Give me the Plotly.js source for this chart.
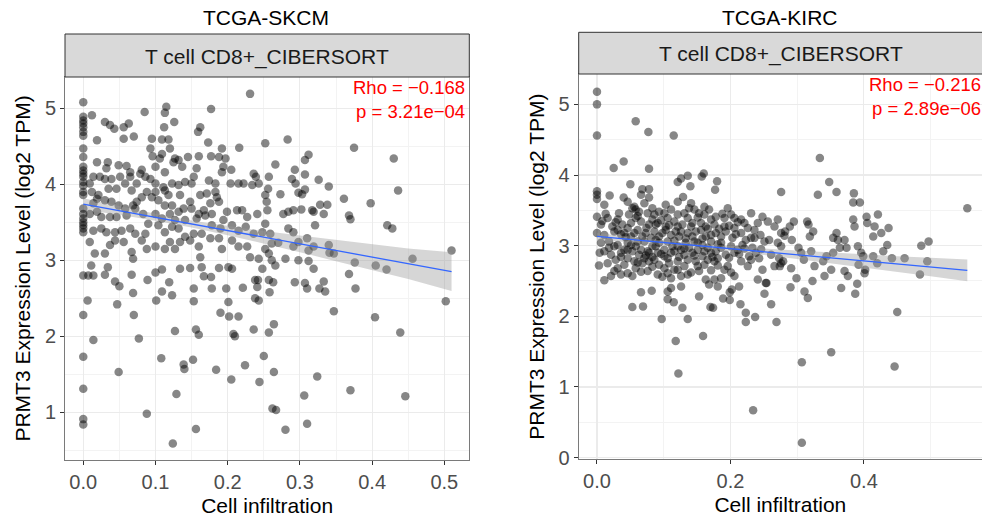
<!DOCTYPE html>
<html>
<head>
<meta charset="utf-8">
<script src="https://cdn.plot.ly/plotly-3.0.1.min.js"></script>
<style>html,body{margin:0;padding:0;background:#fff;}#chart{width:982px;height:517px;}</style>
</head>
<body>
<div id="chart"></div>
<script>
// ---------------- Labels ----------------
const skcmTitle = "TCGA-SKCM";
const kircTitle = "TCGA-KIRC";
const stripLabel = "T cell CD8+_CIBERSORT";
const skcmStats = ["Rho = \u22120.168", "p = 3.21e\u221204"];
const kircStats = ["Rho = \u22120.216", "p = 2.89e\u221206"];
const xTitle = "Cell infiltration";
const yTitle = "PRMT3 Expression Level (log2 TPM)";

// ---------------- Data: TCGA-SKCM ----------------
const skcmX = [
 0,0,0,0,0,0,0,0,0,0, 0,0,0,0,0,0,0,0,0,0, 0,0,0,0,0,0,0,0,0,0,
 0.012,0.030,0.037,0.043,0.056,0.063,0.056,0.070,0.085,0.113,
 0.115,0.112,0.126,0.095,0.109,0.118,0.120,0.093,0.096,0.106,
 0.127,0.132,0.109,0.019,0.019,0.034,0.032,0.049,0.060,0.065,
 0.081,0.100,0.113,0.125,0.137,0.145,0.160,0.157,0.162,0.159,
 0.177,0.173,0.192,0.197,0.177,0.188,0.194,0.205,0.192,0.216,
 0.231,0.252,0.236,0.239,0.234,0.243,0.257,0.215,0.222,0.204,
 0.174,0.183,0.171,0.150,0.153,0.141,0.132,0.123,0.111,0.100,
 0.093,0.086,0.079,0.065,0.051,0.039,0.030,0.023,0.014,0.009,
 0.012,0.021,0.035,0.046,0.058,0.067,0.074,0.088,0.100,0.113,
 0.118,0.134,0.148,0.162,0.183,0.185,0.188,0.176,0.167,0.160,
 0.150,0.139,0.132,0.123,0.113,0.104,0.095,0.081,0.074,0.069,
 0.058,0.049,0.039,0.030,0.019,0.014,0.009,0.019,0.025,0.037,
 0.046,0.060,0.072,0.083,0.100,0.109,0.120,0.127,0.141,0.157,
 0.169,0.178,0.199,0.213,0.220,0.227,0.241,0.255,0.252,0.248,
 0.236,0.225,0.215,0.206,0.194,0.190,0.178,0.164,0.153,0.141,
 0.132,0.123,0.113,0.104,0.090,0.086,0.072,0.065,0.053,0.044,
 0.032,0.025,0.014,0.009,0.016,0.030,0.037,0.044,0.056,0.067,
 0.069,0.081,0.088,0.100,0.113,0.120,0.127,0.134,0.148,0.160,
 0.162,0.176,0.188,0.192,0.206,0.215,0.227,0.231,0.243,0.252,0.257,
 0.283,0.375,0.430,0.312,0.307,0.266,0.293,0.307,0.289,0.294,
 0.256,0.326,0.340,0.307,0.298,0.303,0.273,0.252,0.254,0.328,
 0.338,0.361,0.398,0.436,0.277,0.284,0.291,0.302,0.317,0.319,
 0.333,0.321,0.284,0.291,0.368,0.370,0.421,0.428,0.259,0.261,
 0.270,0.291,0.298,0.310,0.319,0.312,0.340,0.347,0.280,0.298,
 0.312,0.261,0.376,0.405,0.420,0.456,0.510,0.319,0.341,
 0.007,0.014,0.030,0.011,0.034,0.044,0.050,0.067,0.069,0.089,
 0.100,0.109,0.119,0.109,0.123,0.101,0.134,0.148,0.164,0.153,
 0.153,0.167,0.177,0.178,0.188,0.201,0.206,0.198,0.201,0.221,
 0.238,0.242,0.241,0.238,0.243,0.248,0.257,0.258,0.006,0.047,
 0.070,0.190,0.202,0.215,0.127,0.156,0.160,0.208,0.210,0.236,
 0.257,0.014,0.077,0.108,0.139,0.140,0.152,0.184,0.224,0.250,
 0.049,0.205,0.244,0.129,0.088,0.156,0.124,
 0.266,0.263,0.293,0.307,0.310,0.333,0.327,0.335,0.368,0.377,
 0.502,0.347,0.404,0.264,0.439,0.264,0.324,0.370,0.306,0.446,
 0.262,0.267,0.310,0.280
];
const skcmY = [
 5.08,4.89,4.84,4.80,4.75,4.69,4.64,4.47,4.36,4.23,
 4.18,4.14,4.10,4.03,3.98,3.90,3.86,3.68,3.61,3.55,
 3.50,3.46,3.42,3.37,2.80,2.28,1.73,1.31,0.91,0.84,
 4.91,4.82,4.78,4.73,4.75,4.80,4.60,4.63,4.95,4.94,
 5.02,4.75,4.82,4.60,4.59,4.59,4.47,4.47,4.37,4.34,
 4.34,4.32,4.40,4.58,4.29,4.29,4.21,4.25,4.24,4.16,
 4.19,4.23,4.16,4.29,4.23,4.36,4.37,4.21,4.75,4.69,
 4.99,4.55,4.47,4.34,4.37,4.36,4.23,4.19,4.16,4.48,
 5.19,4.54,4.14,4.10,3.99,4.01,4.10,4.01,4.01,4.01,
 4.05,4.01,3.88,4.01,4.10,4.03,3.99,4.01,3.96,4.01,
 4.07,4.10,4.14,4.10,4.10,4.07,4.07,4.10,4.10,4.01,
 3.90,3.86,3.94,3.94,4.01,3.92,4.01,3.90,3.90,3.92,
 3.86,3.86,3.77,3.86,3.90,3.83,3.77,3.75,3.66,3.61,
 3.68,3.68,3.64,3.72,3.72,3.79,3.83,3.83,3.77,3.72,
 3.68,3.72,3.77,3.79,3.81,3.75,3.61,3.64,3.57,3.57,
 3.57,3.59,3.68,3.61,3.61,3.55,3.61,3.53,3.53,3.55,
 3.59,3.61,3.64,3.66,3.66,3.57,3.61,3.66,3.48,3.37,
 3.35,3.44,3.39,3.46,3.53,3.42,3.46,3.35,3.35,3.31,
 3.42,3.44,3.37,3.46,3.48,3.35,3.35,3.42,3.39,3.37,
 3.37,3.42,3.39,3.24,3.09,3.09,3.20,3.26,3.24,3.11,
 3.02,3.26,3.15,3.18,3.15,3.24,3.15,3.24,3.26,3.18,
 3.04,3.29,3.29,3.15,3.26,3.18,3.18,3.04,3.02,3.15,3.09,
 4.59,4.48,4.34,4.39,4.32,4.26,4.19,4.13,4.07,4.01,
 3.94,4.06,3.97,3.93,3.89,3.87,3.87,3.86,3.77,3.73,
 3.73,3.81,3.75,3.92,3.61,3.64,3.66,3.67,3.66,3.64,
 3.61,3.46,3.42,3.37,3.59,3.54,3.46,3.42,3.35,3.22,
 3.23,3.18,3.24,3.29,3.18,3.13,3.20,3.09,3.02,3.00,
 2.99,3.00,2.97,2.93,2.88,3.02,3.13,2.89,3.10,
 2.80,2.80,2.81,2.93,2.91,2.72,2.66,2.81,2.57,2.74,
 2.84,2.88,2.71,2.59,2.54,2.47,2.89,2.90,2.91,2.63,
 2.46,2.79,2.78,2.63,2.90,2.91,2.89,2.63,2.45,2.64,
 2.74,2.74,2.65,2.50,2.47,2.89,2.74,2.58,2.47,2.42,
 2.28,2.31,2.26,2.26,2.07,2.09,2.02,2.03,2.00,2.09,
 2.05,1.95,1.97,1.71,1.63,1.57,1.69,1.56,1.62,1.74,
 1.53,1.43,1.40,1.24,0.98,0.78,0.59,
 2.93,2.71,2.71,2.70,2.63,2.72,2.63,2.59,2.82,2.63,
 2.46,2.33,2.25,2.16,2.05,1.53,1.47,1.29,1.22,1.21,
 1.05,1.03,0.85,0.77
];
// fitted line and its 95% band
const skcmFitX = [0, 0.05, 0.1, 0.15, 0.2, 0.25, 0.3, 0.35, 0.4, 0.45, 0.51];
const skcmFitY = [3.740, 3.653, 3.566, 3.478, 3.391, 3.304, 3.217, 3.129, 3.042, 2.955, 2.850];
const skcmUpper = [3.815, 3.708, 3.611, 3.523, 3.451, 3.384, 3.327, 3.269, 3.212, 3.155, 3.105];
const skcmLower = [3.665, 3.598, 3.521, 3.433, 3.331, 3.224, 3.107, 2.989, 2.872, 2.755, 2.595];

// ---------------- Data: TCGA-KIRC ----------------
const kircX = [
 0,0,0,0.058,0.077,0.115,0.025,0.040,0.078,0.050,
 0.066,0.068,0.078,0,0,0,0.019,0.040,0.078,0.121,
 0.126,0.136,0.140,0.129,0.160,0.157,0.180,0.177,0.276,
 0.334,0.348,0.331,0.359,0.385,
 0.011,0.046,0.056,0.071,0.103,0.121,0.141,0.161,0.196,
 0.000,0.016,0.033,0.048,0.058,0.076,0.086,0.093,0.111,0.121,
 0.131,0.146,0.161,0.178,0.191,0.201,0.216,0.248,0.256,0.271,
 0.006,0.023,0.038,0.051,0.066,0.078,0.091,0.103,0.116,0.128,
 0.143,0.156,0.163,0.176,0.191,0.206,0.221,0.236,0.241,0.266,
 0.000,0.011,0.026,0.041,0.051,0.061,0.073,0.086,0.098,0.111,
 0.123,0.136,0.148,0.163,0.178,0.193,0.203,0.216,0.231,0.245,
 0.258,0.276,
 0.006,0.018,0.031,0.046,0.058,0.071,0.083,0.093,0.106,0.121,
 0.133,0.146,0.158,0.171,0.186,0.201,0.218,0.233,0.251,0.271,
 0.011,0.021,0.036,0.046,0.063,0.076,0.091,0.101,0.116,0.131,
 0.143,0.158,0.171,0.181,0.193,0.206,0.228,0.243,0.261,0.273,
 0.016,0.028,0.041,0.056,0.068,0.078,0.093,0.108,0.121,0.131,
 0.148,0.161,0.176,0.196,0.226,0.248,0.266,
 0.021,0.036,0.046,0.011,0.076,0.091,0.106,0.111,0.126,0.136,
 0.153,0.163,0.176,0.186,0.206,0.241,0.253,
 0.053,0.063,0.083,0.101,0.138,0.153,0.168,0.031,0.058,0.083,
 0.106,0.136,0.171,0.031,0.046,0.056,0.068,0.081,0.093,0.103,
 0.118,0.143,0.156,0.171,0.186,0.026,0.041,0.051,0.066,0.078,
 0.088,0.101,0.113,0.126,0.138,0.151,0.166,0.178,0.046,0.071,
 0.086,0.106,0.136,0.151,0.166,0.031,0.058,0.101,0.121,0.191,
 0.216,0.211,0.236,0.226,0.206,0.231,
 0.281,0.282,0.289,0.295,0.276,0.276,0.274,0.279,0.291,0.292,
 0.299,0.302,0.306,0.310,0.315,0.317,0.319,0.321,0.324,0.326,
 0.339,0.341,0.344,0.351,0.354,0.354,0.359,0.361,0.364,0.371,
 0.371,0.374,0.376,0.384,0.386,0.391,0.392,0.396,0.399,0.402,
 0.404,0.405,0.414,0.416,0.420,0.421,0.414,0.426,0.429,0.435,
 0.437,0.442,0.461,0.486,0.495,0.497,0.555,0.384,0.394,0.484,
 0.401,0.323,
 0.118,0.122,0.159,0.307,0.351,0.446,0.450,0.234,0.307,0.097,
 0.053,0.069,0.136,0.066,0.082,0.128,0.115,0.106,0.153,0.170,
 0.189,0.199,0.215,0.223,0.223,0.237,0.269,0.261,0.251,0.290,
 0.311,0.316,0.366,0.387,0.390,0.213,0.202,0.199,0.181,0.168,
 0.126,0.111,0.106,0.254,0.174
];
const kircY = [
 5.18,5.00,4.56,4.76,4.61,4.56,4.10,4.19,4.09,3.87,
 3.72,3.80,3.80,3.77,3.72,3.66,3.71,3.68,3.68,3.90,
 3.95,3.99,3.84,3.69,4.02,3.98,3.91,3.79,3.76,
 4.24,3.90,3.72,3.76,3.74,
 3.58,3.62,3.55,3.60,3.58,3.62,3.60,3.55,3.53,
 3.41,3.39,3.46,3.44,3.51,3.46,3.44,3.48,3.51,3.44,
 3.46,3.51,3.44,3.41,3.39,3.44,3.37,3.41,3.34,3.37,
 3.30,3.27,3.30,3.32,3.34,3.30,3.32,3.27,3.34,3.30,
 3.32,3.32,3.27,3.30,3.27,3.25,3.32,3.22,3.32,3.27,
 3.18,3.15,3.20,3.18,3.13,3.22,3.18,3.20,3.18,3.15,
 3.13,3.18,3.20,3.13,3.18,3.20,3.11,3.18,3.11,3.15,
 3.08,3.18,
 3.04,3.06,3.01,3.04,2.99,3.06,2.99,3.04,3.06,2.99,
 3.04,3.06,3.01,3.06,3.04,2.99,3.01,2.97,3.06,3.04,
 2.92,2.87,2.90,2.94,2.87,2.92,2.90,2.85,2.92,2.87,
 2.90,2.85,2.90,2.82,2.87,2.90,2.85,2.82,2.87,2.82,
 2.75,2.80,2.73,2.78,2.75,2.78,2.73,2.75,2.78,2.71,
 2.78,2.73,2.78,2.71,2.71,2.66,2.71,
 2.57,2.59,2.61,2.51,2.64,2.59,2.61,2.54,2.57,2.59,
 2.64,2.52,2.52,2.54,2.57,2.52,2.47,
 3.53,3.48,3.53,3.46,3.53,3.46,3.51,3.37,3.39,3.37,
 3.39,3.39,3.37,3.22,3.25,3.18,3.13,3.11,3.13,3.22,
 3.20,3.13,3.22,3.15,3.13,2.99,2.94,3.01,2.94,2.90,
 2.99,2.94,2.99,2.94,2.97,2.94,2.97,2.92,2.82,2.82,
 2.80,2.82,2.80,2.71,2.80,2.68,2.68,2.68,2.66,2.66,
 2.78,2.94,3.11,3.25,3.39,3.46,
 3.14,3.20,3.27,3.34,2.99,2.75,2.71,2.78,2.68,3.08,
 2.54,2.97,2.90,2.80,3.34,3.30,3.13,2.92,3.20,2.71,
 2.78,2.57,2.85,2.66,2.90,3.11,3.18,3.08,2.97,3.08,
 2.64,2.97,2.57,3.37,3.27,2.99,2.73,2.90,2.85,2.66,
 3.41,3.32,3.13,3.27,2.75,3.44,2.85,3.18,2.92,3.01,
 3.25,2.82,2.82,3.00,2.78,3.06,3.53,3.61,3.61,2.59,
 2.61,2.50,
 1.65,1.19,1.72,1.35,1.49,1.29,2.06,0.67,0.21,1.96,
 2.13,2.14,1.96,2.34,2.36,2.12,2.20,2.24,2.28,2.13,
 2.25,2.23,2.17,2.05,1.92,1.99,1.92,2.17,2.32,2.41,
 2.35,2.26,2.40,2.32,2.46,2.42,2.38,2.34,2.42,2.45,
 2.42,2.40,2.35,2.47,2.12
];
// further overlapping points in the dense KIRC cloud
const kircDenseX = [
 0.013,0.028,0.043,0.061,0.074,0.088,0.096,0.108,0.116,0.126,
 0.133,0.141,0.151,0.158,0.166,0.183,0.188,0.198,0.208,0.223,
 0.018,0.036,0.053,0.061,0.073,0.083,0.096,0.111,0.123,0.131,
 0.146,0.161,0.173,0.186,0.198,0.213,0.221,0.238,0.026,0.053,
 0.066,0.083,0.098,0.116,0.141,0.171,0.181,0.201,0.121,0.061,
 0.036,0.088,0.151,0.181,0.008,0.004,0.003,0.211,0.231,0.246
];
const kircDenseY = [
 3.45,3.33,3.12,3.42,3.25,3.30,3.36,3.29,3.07,3.20,
 3.10,3.27,3.40,3.10,3.24,3.24,3.45,3.28,3.16,3.08,
 2.97,2.84,2.92,2.76,2.86,2.84,2.88,2.90,2.84,2.96,
 2.86,2.92,2.84,2.97,2.83,2.88,2.96,2.90,2.64,2.57,
 2.63,2.70,2.56,2.66,2.62,2.65,2.72,2.62,3.27,3.06,
 3.16,3.08,3.04,3.02,3.35,2.90,2.72,3.33,2.80,2.95
];
const kircFitX = [0, 0.05, 0.1, 0.15, 0.2, 0.25, 0.3, 0.35, 0.4, 0.45, 0.5, 0.555];
const kircFitY = [3.130, 3.087, 3.044, 3.000, 2.957, 2.914, 2.871, 2.827, 2.784, 2.741, 2.698, 2.650];
const kircUpper = [3.180, 3.122, 3.074, 3.030, 2.992, 2.959, 2.931, 2.902, 2.874, 2.851, 2.828, 2.805];
const kircLower = [3.080, 3.052, 3.014, 2.970, 2.922, 2.869, 2.811, 2.752, 2.694, 2.631, 2.568, 2.495];

// ---------------- Styles ----------------
const FONT = "Liberation Sans, Arial, Helvetica, sans-serif";
const ptColor = "rgba(0,0,0,0.47)";
const bandColor = "rgba(153,153,153,0.4)";
const lineColor = "#3366FF";

function panelTraces(xs, ys, fx, fy, lo, up, xa, ya) {
  return [
    {type:"scatter", mode:"markers", x:xs, y:ys, xaxis:xa, yaxis:ya,
     marker:{size:8.5, color:ptColor, line:{width:0}}, hoverinfo:"skip"},
    {type:"scatter", mode:"lines", x:fx, y:lo, xaxis:xa, yaxis:ya,
     line:{width:0, color:bandColor}, hoverinfo:"skip"},
    {type:"scatter", mode:"lines", x:fx, y:up, xaxis:xa, yaxis:ya, fill:"tonexty",
     fillcolor:bandColor, line:{width:0, color:bandColor}, hoverinfo:"skip"},
    {type:"scatter", mode:"lines", x:fx, y:fy, xaxis:xa, yaxis:ya,
     line:{width:1.3, color:lineColor}, hoverinfo:"skip"}
  ];
}

const data = [
  ...panelTraces(skcmX, skcmY, skcmFitX, skcmFitY, skcmLower, skcmUpper, "x", "y"),
  ...panelTraces(kircX.concat(kircDenseX), kircY.concat(kircDenseY),
                 kircFitX, kircFitY, kircLower, kircUpper, "x2", "y2")
];

function xAxis(domain, range, dtick, anchor) {
  return {
    domain, range, anchor, dtick, tick0:0, tickformat:".1f",
    ticks:"outside", ticklen:4, tickcolor:"#333333", tickwidth:1,
    tickfont:{family:FONT, size:20, color:"#4D4D4D"},
    showgrid:true, gridcolor:"#EBEBEB", gridwidth:1.2,
    minor:{dtick:dtick/2, tick0:0, showgrid:true, gridcolor:"#F3F3F3", gridwidth:1, ticks:""},
    showline:true, mirror:true, linecolor:"#7A7A7A", linewidth:1, zeroline:false,
    title:{text:xTitle, font:{family:FONT, size:21, color:"#000000"}, standoff:6}
  };
}
function yAxis(domain, range, anchor) {
  return {
    domain, range, anchor, dtick:1, tick0:0,
    ticks:"outside", ticklen:4, tickcolor:"#333333", tickwidth:1,
    tickfont:{family:FONT, size:20, color:"#4D4D4D"},
    showgrid:true, gridcolor:"#EBEBEB", gridwidth:1.2,
    minor:{dtick:0.5, tick0:0, showgrid:true, gridcolor:"#F3F3F3", gridwidth:1, ticks:""},
    showline:true, mirror:true, linecolor:"#7A7A7A", linewidth:1, zeroline:false,
    title:{text:yTitle, font:{family:FONT, size:21, color:"#000000"}, standoff:8}
  };
}

const W = 982, H = 517;
const px = v => v / W;
const py = v => (H - v) / H;

const layout = {
  width:W, height:H,
  margin:{l:0, r:0, t:0, b:0},
  paper_bgcolor:"#FFFFFF", plot_bgcolor:"#FFFFFF",
  showlegend:false,
  font:{family:FONT, size:20, color:"#1A1A1A"},
  xaxis: xAxis([px(65), px(469.3)], [-0.0253, 0.5346], 0.1, "y"),
  yaxis: yAxis([py(460), py(77)], [0.372, 5.412], "x"),
  xaxis2: xAxis([px(578.7), 1], [-0.0274, 0.577], 0.2, "y2"),
  yaxis2: yAxis([py(459.3), py(74)], [-0.025, 5.43], "x2"),
  shapes:[
    {type:"rect", xref:"paper", yref:"paper", x0:px(65), x1:px(469.3), y0:py(77), y1:py(34),
     fillcolor:"#D9D9D9", line:{color:"#333333", width:1}, layer:"above"},
    {type:"rect", xref:"paper", yref:"paper", x0:px(578.7), x1:1.005, y0:py(74), y1:py(32.3),
     fillcolor:"#D9D9D9", line:{color:"#333333", width:1}, layer:"above"}
  ],
  annotations:[
    {text:skcmTitle, xref:"paper", yref:"paper", x:px(266), y:py(17.5), showarrow:false,
     xanchor:"center", yanchor:"middle", font:{family:FONT, size:21, color:"#000000"}},
    {text:kircTitle, xref:"paper", yref:"paper", x:px(780), y:py(17.5), showarrow:false,
     xanchor:"center", yanchor:"middle", font:{family:FONT, size:21, color:"#000000"}},
    {text:stripLabel, xref:"paper", yref:"paper", x:px(266.5), y:py(56.7), showarrow:false,
     xanchor:"center", yanchor:"middle", font:{family:FONT, size:21, color:"#1A1A1A"}},
    {text:stripLabel, xref:"paper", yref:"paper", x:px(781), y:py(54.2), showarrow:false,
     xanchor:"center", yanchor:"middle", font:{family:FONT, size:21, color:"#1A1A1A"}},
    {text:skcmStats.join("<br>"), xref:"paper", yref:"paper", x:px(466), y:py(99.5), showarrow:false,
     xanchor:"right", yanchor:"middle", align:"right", borderpad:0,
     font:{family:FONT, size:18.5, color:"#FF0000"}},
    {text:kircStats.join("<br>"), xref:"paper", yref:"paper", x:px(982), y:py(97), showarrow:false,
     xanchor:"right", yanchor:"middle", align:"right", borderpad:0,
     font:{family:FONT, size:18.5, color:"#FF0000"}}
  ]
};

Plotly.newPlot("chart", data, layout, {staticPlot:true, displayModeBar:false});
</script>
</body>
</html>
